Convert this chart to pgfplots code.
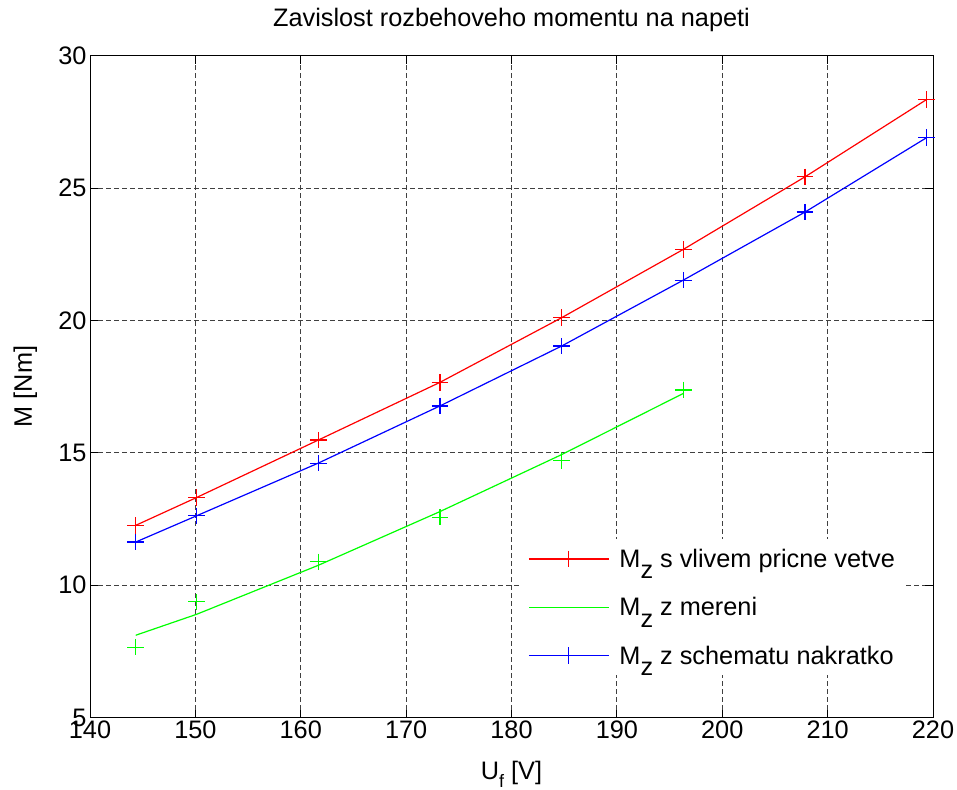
\documentclass[border=0pt]{standalone}
\usepackage{fontspec}
\setmainfont{Liberation Sans}
\usepackage{pgfplots}
\pgfplotsset{compat=1.18}

% text size used for every label in the figure
\newcommand{\fs}{\fontsize{25.3bp}{29bp}\selectfont}
% lowered subscript, same size as the text (legend)
\newcommand{\sub}[1]{\raisebox{-0.45em}{#1}}
% lowered, smaller subscript (axis label)
\newcommand{\ssub}[1]{\raisebox{-0.3em}{\fontsize{18bp}{20bp}\selectfont #1}}

\definecolor{mred}{RGB}{255,0,0}
\definecolor{mgreen}{RGB}{0,255,0}
\definecolor{mblue}{RGB}{0,0,255}

% phase voltage [V] and starting torque [Nm]
\pgfplotstableread{
U       Mvliv  Mschema
144.34  12.26  11.63
150.11  13.31  12.62
161.66  15.48  14.61
173.21  17.66  16.77
184.75  20.10  19.03
196.30  22.68  21.52
207.85  25.42  24.09
219.39  28.34  26.90
}\tabcalc
\pgfplotstableread{
U       Mmer   Mfit
144.34  7.66   8.11
150.11  9.37   8.90
161.66  10.88  10.75
173.21  12.57  12.78
184.75  14.72  14.93
196.30  17.37  17.24
}\tabmer

\begin{document}
\begin{tikzpicture}
\useasboundingbox (0,0) rectangle (957bp,790bp);
\begin{axis}[
  at={(90bp,72.4bp)}, anchor=south west,
  scale only axis, width=843bp, height=662bp,
  xmin=140, xmax=220, ymin=5, ymax=30,
  xtick={140,150,...,220}, ytick={5,10,...,30},
  tick align=inside, major tick length=8bp,
  tick style={black, line width=0.8bp},
  axis line style={black, line width=1bp},
  grid=major,
  grid style={black!75, dash pattern=on 5bp off 3bp, line width=0.9bp},
  ticklabel style={font=\fs},
  /pgf/number format/assume math mode=true,
  title={Zavislost rozbehoveho momentu na napeti},
  title style={font=\fs, at={(axis description cs:0.5,1)}, anchor=base, yshift=23.4bp},
  xlabel={U\ssub{f} [V]},
  xlabel style={font=\fs, at={(axis description cs:0.5,0)}, anchor=base, yshift=-62bp},
  ylabel={M [Nm]},
  ylabel style={font=\fs, at={(axis description cs:0,0.5)}, anchor=base, yshift=58bp},
  legend image code/.code={
    \draw[mark repeat=2, mark phase=2, #1]
      plot coordinates {(0bp,0bp) (40bp,0bp) (80bp,0bp)};},
  legend style={at={(axis description cs:0.5125,0.27)}, anchor=north west,
    draw=none, fill=white, font=\fs, row sep=24.5bp,
    inner xsep=6bp, inner ysep=8bp,
    /tikz/every odd column/.append style={column sep=8bp}},
  legend cell align=left,
  every axis plot/.append style={line width=1.2bp},
  mark size=8.3bp,
]
\addplot[mred, mark=+, mark options={solid, draw=mred, line width=1.2bp}]
  table[x=U, y=Mvliv] {\tabcalc};
\addlegendentry{M\sub{z} s vlivem pricne vetve}
\addplot[mgreen, no marks] table[x=U, y=Mfit] {\tabmer};
\addlegendentry{M\sub{z} z mereni}
\addplot[mblue, mark=+, mark options={solid, draw=mblue, line width=1.2bp}]
  table[x=U, y=Mschema] {\tabcalc};
\addlegendentry{M\sub{z} z schematu nakratko}
\addplot[mgreen, only marks, mark=+,
  mark options={draw=mgreen, line width=1.2bp}, forget plot]
  table[x=U, y=Mmer] {\tabmer};
\end{axis}
\end{tikzpicture}
\end{document}
